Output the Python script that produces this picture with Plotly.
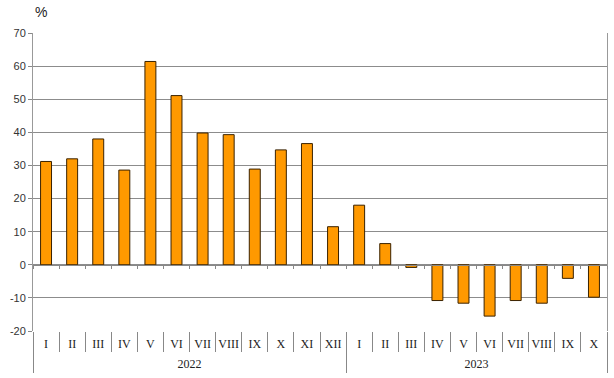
import plotly.graph_objects as go

years = ["2022"] * 12 + ["2023"] * 10
months = ["I", "II", "III", "IV", "V", "VI", "VII", "VIII", "IX", "X", "XI", "XII",
          "I", "II", "III", "IV", "V", "VI", "VII", "VIII", "IX", "X"]
values = [31.2, 32.0, 38.0, 28.6, 61.4, 51.1, 39.8, 39.3, 28.9, 34.7, 36.6, 11.5,
          18.0, 6.4, -0.8, -10.8, -11.6, -15.5, -10.8, -11.6, -4.1, -9.8]
y_ticks = [-20, -10, 0, 10, 20, 30, 40, 50, 60, 70]

# category ids (unique) and year-group geometry derived from the data
cat_ids = [f"{y} {m}" for y, m in zip(years, months)]
n = len(cat_ids)
year_names = list(dict.fromkeys(years))
year_idx = {yr: [i for i, y in enumerate(years) if y == yr] for yr in year_names}
year_centers = [sum(v) / len(v) for v in year_idx.values()]
year_bounds = [-0.5] + [max(v) + 0.5 for v in year_idx.values()]

fig = go.Figure()
fig.add_trace(go.Bar(
    x=cat_ids, y=values,
    marker=dict(color="#FF9900", line=dict(color="#3a2200", width=1)),
    width=0.42, showlegend=False,
))
# invisible helpers for the zero-line ticks and the year axis
fig.add_trace(go.Bar(x=list(range(n)), y=[0] * n, xaxis="x2",
                     marker=dict(opacity=0), showlegend=False, hoverinfo="skip"))
fig.add_trace(go.Bar(x=list(range(n)), y=[0] * n, xaxis="x3",
                     marker=dict(opacity=0), showlegend=False, hoverinfo="skip"))

fig.update_layout(
    width=614, height=378,
    margin=dict(l=33, r=7, t=33, b=47, autoexpand=False),
    plot_bgcolor="white", paper_bgcolor="white",
    font=dict(family="Liberation Sans, Arial", size=11, color="#333333"),
    xaxis=dict(
        type="category", range=[-0.5, n - 0.5], automargin=False,
        tickmode="array", tickvals=cat_ids, ticktext=months,
        showgrid=False, zeroline=False, showline=False, tickangle=0,
        ticks="outside", tickson="boundaries", ticklen=20, tickcolor="#888888",
        ticklabelstandoff=4,
        tickfont=dict(family="Liberation Serif, Times New Roman", size=12, color="#222222"),
    ),
    xaxis2=dict(
        overlaying="x", anchor="free", position=20 / 90, automargin=False,
        range=[-0.5, n - 0.5], showgrid=False, zeroline=False,
        showline=True, linecolor="#888888", linewidth=1,
        tickvals=[i - 0.5 for i in range(n + 1)], ticks="outside", ticklen=3,
        tickcolor="#888888", showticklabels=False,
    ),
    xaxis3=dict(
        overlaying="x", anchor="free", position=0, automargin=False,
        range=[-0.5, n - 0.5], showgrid=False, zeroline=False, showline=False,
        tickmode="array", tickvals=year_centers, ticktext=year_names, ticks="",
        ticklabelstandoff=24,
        tickfont=dict(family="Liberation Serif, Times New Roman", size=12, color="#222222"),
        minor=dict(tickmode="array", tickvals=year_bounds, ticks="outside",
                   ticklen=41, tickcolor="#888888", showgrid=False),
    ),
    yaxis=dict(
        range=[-20, 70], tickvals=y_ticks, ticktext=[str(v) for v in y_ticks],
        automargin=False,
        showgrid=True, gridcolor="#8c8c8c", gridwidth=1,
        zeroline=False,
        showline=True, linecolor="#999999", linewidth=1, mirror=True,
        ticks="outside", ticklen=4, tickcolor="#888888",
        tickfont=dict(family="Liberation Sans, Arial", size=11, color="#333333"),
    ),
    bargap=0.58,
)
fig.add_annotation(text="%", xref="paper", yref="paper", x=0.0, y=1.0, yshift=21,
                   xanchor="left", yanchor="middle", showarrow=False,
                   font=dict(family="Liberation Sans, Arial", size=14, color="#222222"))

fig.write_html("out.html", config={"displayModeBar": False},
               post_script="document.body.style.margin='0px';")
